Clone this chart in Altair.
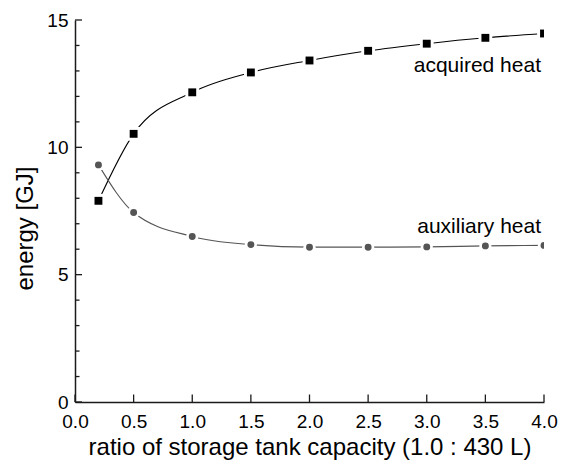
import altair as alt
import pandas as pd

ratio = [0.2, 0.5, 1.0, 1.5, 2.0, 2.5, 3.0, 3.5, 4.0]
acquired = [7.90, 10.53, 12.16, 12.94, 13.41, 13.79, 14.07, 14.30, 14.47]
auxiliary = [9.31, 7.44, 6.50, 6.18, 6.08, 6.08, 6.09, 6.13, 6.15]
series_names = ["acquired heat", "auxiliary heat"]
label_energy = [12.95, 6.63]
x_ticks = [0.0, 0.5, 1.0, 1.5, 2.0, 2.5, 3.0, 3.5, 4.0]
y_major = [0, 5, 10, 15]
y_minor = [1, 2, 3, 4, 6, 7, 8, 9, 11, 12, 13, 14]

W, H = 469, 382
FONT = "Liberation Sans"
AX = "#1a1a1a"

df = pd.DataFrame({
    "ratio": ratio + ratio,
    "energy": acquired + auxiliary,
    "series": [series_names[0]] * len(ratio) + [series_names[1]] * len(ratio),
})
df_acq = pd.DataFrame({"ratio": ratio, "energy": acquired})
df_aux = pd.DataFrame({"ratio": ratio, "energy": auxiliary})
lab = pd.DataFrame({"ratio": [ratio[-1]] * 2, "energy": label_energy, "series": series_names})

xs = alt.Scale(domain=[0, 4], nice=False, zero=False)
ys = alt.Scale(domain=[0, 15], nice=False, zero=False)
col = alt.Scale(domain=series_names, range=["#000000", "#555555"])

x_enc = alt.X("ratio:Q", scale=xs, axis=alt.Axis(
    values=x_ticks, format=".1f", title="ratio of storage tank capacity (1.0 : 430 L)",
    ticks=False, grid=False, labelPadding=10, titlePadding=4, labelFlush=False,
    labelOverlap=False, labelFontSize=19, titleFontSize=24, labelFont=FONT, titleFont=FONT,
    labelColor="#000", titleColor="#000", titleFontWeight="normal",
    domainColor=AX, domainWidth=1.5))
y_enc = alt.Y("energy:Q", scale=ys, axis=alt.Axis(
    values=y_major, format="d", title="energy [GJ]", ticks=False, grid=False,
    labelPadding=7, labelFontSize=19, titleFontSize=24, labelFont=FONT, titleFont=FONT,
    labelColor="#000", titleColor="#000", titleFontWeight="normal",
    titleAngle=270, titleAlign="center", titleBaseline="middle", titleX=-50, titleY=208,
    domainColor=AX, domainWidth=1.5, labelFlush=False))

lines = alt.Chart(df).mark_line(interpolate="monotone", strokeWidth=1.1, clip=True).encode(
    x=x_enc, y=y_enc, color=alt.Color("series:N", scale=col, legend=None))


def pts(d, shape, size, color):
    return alt.Chart(d).mark_point(filled=True, opacity=1, clip=True, shape=shape,
                                   size=size, color=color, strokeWidth=0).encode(
        x="ratio:Q", y="energy:Q")


halo_acq = pts(df_acq, "square", 190, "white")
halo_aux = pts(df_aux, "circle", 150, "white")
mk_acq = pts(df_acq, "square", 62, "#000000")
mk_aux = pts(df_aux, "circle", 48, "#555555")

texts = alt.Chart(lab).mark_text(align="right", baseline="alphabetic", dx=-3, fontSize=21,
                                 font=FONT, color="#000").encode(
    x="ratio:Q", y="energy:Q", text="series:N")

ymaj = alt.Chart(pd.DataFrame({"energy": y_major})).mark_rule(color=AX, strokeWidth=1.3).encode(
    y="energy:Q", x=alt.value(0), x2=alt.value(7))
ymin = alt.Chart(pd.DataFrame({"energy": y_minor})).mark_rule(color=AX, strokeWidth=1.3).encode(
    y="energy:Q", x=alt.value(0), x2=alt.value(4.5))
xmaj = alt.Chart(pd.DataFrame({"ratio": x_ticks})).mark_rule(color=AX, strokeWidth=1.3).encode(
    x="ratio:Q", y=alt.value(H), y2=alt.value(H - 7.5))

chart = alt.layer(lines, halo_acq, halo_aux, mk_acq, mk_aux, texts, ymaj, ymin, xmaj).properties(
    width=W, height=H,
    autosize=alt.AutoSizeParams(type="none"),
    padding={"left": 67, "top": 12, "right": 14, "bottom": 59},
    background="white",
).configure_view(stroke=None)

chart.save("out.html", embed_options={"renderer": "svg", "actions": False})
